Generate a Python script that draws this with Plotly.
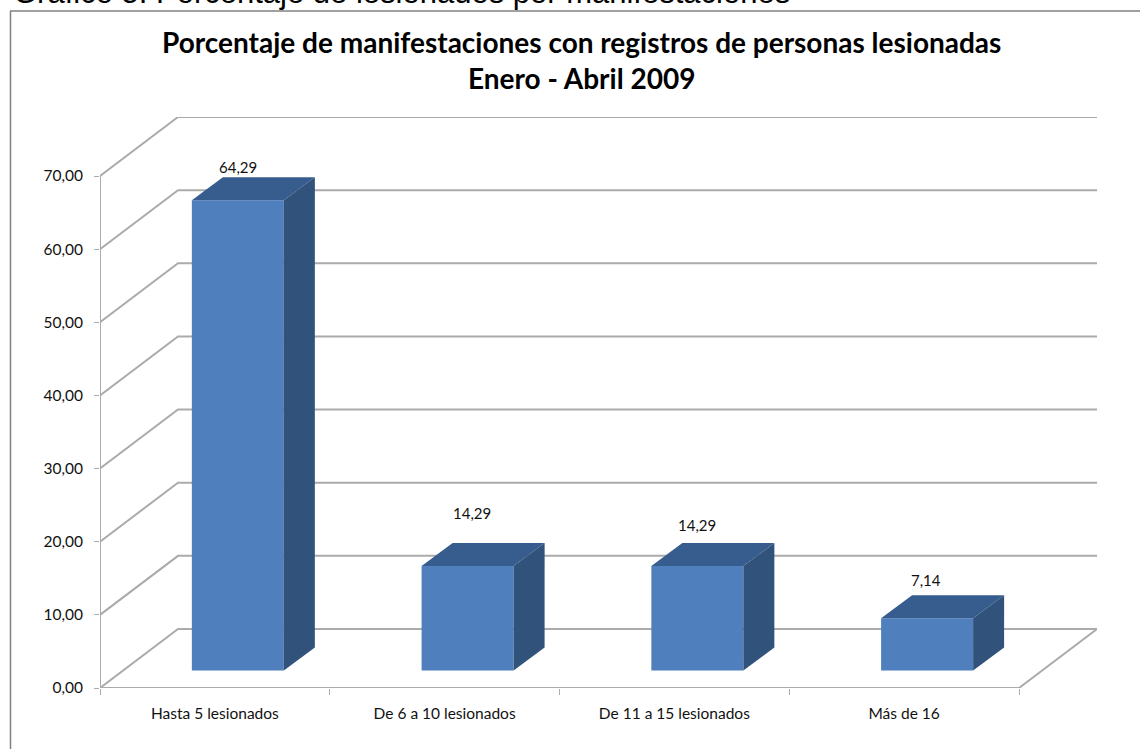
import plotly.graph_objects as go

categories = ["Hasta 5 lesionados", "De 6 a 10 lesionados", "De 11 a 15 lesionados", "Más de 16"]
values = [64.29, 14.29, 14.29, 7.14]
y_ticks = [0, 10, 20, 30, 40, 50, 60, 70]
heading = "Gráfico 5. Porcentaje de lesionados por manifestaciones"
chart_title = "<b>Porcentaje de manifestaciones con registros de personas lesionadas<br>Enero - Abril 2009</b>"

W, H = 1140, 749
# Oblique projection of the 3D box, expressed in axis units
PX_X = 229.75            # px per category
PX_Y = 7.314             # px per value unit
WALL_DX, WALL_DY = 78 / PX_X, 59 / PX_Y       # depth of the floor
BAR_DX, BAR_DY = 31 / PX_X, 23 / PX_Y         # depth of each bar
BAR_BASE = 17.5 / PX_Y   # front face of bars sits above the front floor edge
BAR_W = 92 / PX_X
BAR_C = [0.6, 1.6, 2.6, 3.6]
LABEL_OFF = [(0, 10), (4, 30), (0, 18), (-1, 15)]  # px from the bar's top back edge (dx, dy)

GRID = "#ABABAB"
FRONT, TOP, SIDE = "#4F7FBC", "#375D8F", "#31527B"
FRAME = "#808080"

fig = go.Figure()

# Front faces: real bars
fig.add_trace(go.Bar(x=BAR_C, y=values, base=BAR_BASE, width=BAR_W,
                     marker=dict(color=FRONT, line=dict(width=0)),
                     showlegend=False, hoverinfo="skip"))

# Top and side faces
for c, v in zip(BAR_C, values):
    l, r = c - BAR_W / 2, c + BAR_W / 2
    t, b = v + BAR_BASE, BAR_BASE
    fig.add_trace(go.Scatter(x=[l, r, r + BAR_DX, l + BAR_DX, l],
                             y=[t, t, t + BAR_DY, t + BAR_DY, t],
                             mode="lines", fill="toself", fillcolor=TOP,
                             line=dict(width=0, color=TOP), showlegend=False, hoverinfo="skip"))
    fig.add_trace(go.Scatter(x=[r, r + BAR_DX, r + BAR_DX, r, r],
                             y=[t, t + BAR_DY, b + BAR_DY, b, t],
                             mode="lines", fill="toself", fillcolor=SIDE,
                             line=dict(width=0, color=SIDE), showlegend=False, hoverinfo="skip"))

n = len(categories)
shapes = []
# Back wall gridlines with the diagonal on the side wall
for v in y_ticks:
    shapes.append(dict(type="path", layer="below",
                       path=f"M 0 {v} L {WALL_DX} {v + WALL_DY} L {n + WALL_DX} {v + WALL_DY}",
                       line=dict(color=GRID, width=2)))
# Front floor edge and right floor edge
shapes.append(dict(type="path", layer="below",
                   path=f"M 0 0 L {n} 0 L {n + WALL_DX} {WALL_DY}",
                   line=dict(color=GRID, width=2)))
# Vertical axis
shapes.append(dict(type="line", layer="below", x0=0, x1=0, y0=0, y1=y_ticks[-1],
                   line=dict(color=GRID, width=2)))
# Chart frame: top and left only (paper coordinates span the whole figure here)
shapes.append(dict(type="line", xref="paper", yref="paper", layer="below",
                   x0=10 / W, x1=1, y0=1 - 11 / H, y1=1 - 11 / H,
                   line=dict(color=FRAME, width=1.5)))
shapes.append(dict(type="line", xref="paper", yref="paper", layer="below",
                   x0=10.5 / W, x1=10.5 / W, y0=0, y1=1 - 11 / H,
                   line=dict(color=FRAME, width=1.5)))

annotations = []
for c, v, (dx, dy) in zip(BAR_C, values, LABEL_OFF):
    annotations.append(dict(x=c, y=v + BAR_BASE + BAR_DY, text=f"{v:.2f}".replace(".", ","),
                            showarrow=False, xshift=dx, yshift=dy,
                            font=dict(family="Lato", size=15, color="#111111")))
annotations.append(dict(xref="paper", yref="paper", x=581 / W, y=1 - 60.5 / H, yanchor="middle",
                        text=chart_title, showarrow=False, align="center",
                        font=dict(family="Lato", size=28, color="#000000")))
annotations.append(dict(xref="paper", yref="paper", x=12 / W, y=1 - 11 / H, xanchor="left", yanchor="bottom",
                        text=heading, showarrow=False, align="left", borderpad=0,
                        font=dict(family="Liberation Sans", size=31, color="#000000")))

fig.update_layout(
    width=W, height=H, autosize=False, margin=dict(l=0, r=0, t=0, b=0, pad=0, autoexpand=False),
    paper_bgcolor="white", plot_bgcolor="rgba(0,0,0,0)",
    barmode="overlay", showlegend=False, shapes=shapes, annotations=annotations,
    separators=",.",
    xaxis=dict(domain=[100 / W, 1097 / W], range=[0, n + WALL_DX], showgrid=False, zeroline=False,
               showline=False, tickmode="array",
               tickvals=[i + 0.5 for i in range(n)], ticktext=categories, ticks="",
               tickfont=dict(family="Lato", size=15.5, color="#111111"), ticklabelstandoff=14,
               minor=dict(tickmode="array", tickvals=list(range(n + 1)), ticks="outside",
                          ticklen=6, tickcolor=GRID, tickwidth=1)),
    yaxis=dict(domain=[1 - 688 / H, 1 - 117 / H], range=[0, y_ticks[-1] + WALL_DY], showgrid=False, zeroline=False,
               showline=False, tickmode="array", tickvals=y_ticks, tickformat=".2f",
               ticks="outside", ticklen=5, tickcolor=GRID, tickwidth=1, ticklabelstandoff=8,
               tickfont=dict(family="Lato", size=15.5, color="#111111")),
)
fig.write_html("out.html", config={"displayModeBar": False, "responsive": False},
               post_script="document.body.style.margin='0';")
